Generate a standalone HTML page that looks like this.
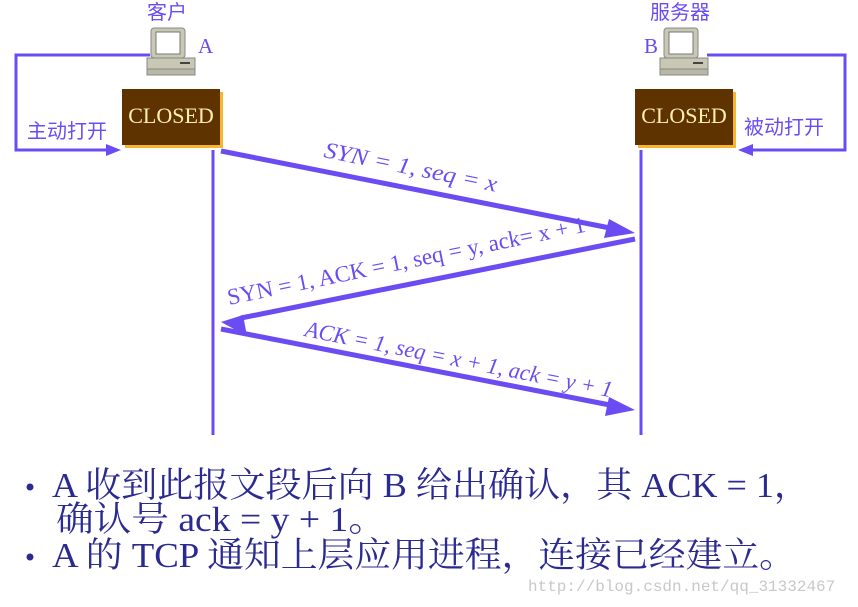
<!DOCTYPE html>
<html><head><meta charset="utf-8"><style>
html,body{margin:0;padding:0;background:#fff;width:858px;height:607px;overflow:hidden}
</style></head><body>
<svg width="858" height="607" viewBox="0 0 858 607" xmlns="http://www.w3.org/2000/svg" font-family="'Liberation Serif','Noto Serif CJK SC',serif">
<defs>
<g id="pc">
 <rect x="4" y="0" width="34" height="30" rx="3" fill="#c8c8b4" stroke="#888" stroke-width="1"/>
 <rect x="9" y="4" width="24" height="22" fill="#fff" stroke="#777" stroke-width="1"/>
 <rect x="0" y="30" width="48" height="11" fill="#c8c8b4" stroke="#888"/>
 <rect x="33" y="34" width="10" height="2" fill="#444"/>
 <rect x="0" y="41" width="48" height="6" fill="#b8b8a4" stroke="#888"/>
</g>
</defs>
<g font-family="'Liberation Sans','Noto Sans CJK SC',sans-serif" fill="#6a4cf2" font-size="20">
<text x="147" y="19">客户</text>
<text x="650" y="19">服务器</text>
<text x="27" y="138">主动打开</text>
<text x="744" y="134">被动打开</text>
</g>
<text x="198" y="53" font-size="21" fill="#6a4cf2">A</text>
<text x="644" y="53" font-size="21" fill="#6a4cf2">B</text>
<use href="#pc" x="147" y="28"/>
<use href="#pc" x="660" y="28"/>
<g stroke="#6a4cf2" stroke-width="3" fill="none">
<polyline points="150,55 16,55 16,150 108,150"/>
<polyline points="707,55 845,55 845,150 752,150"/>
</g>
<polygon points="121,150 106,144 106,156" fill="#6a4cf2"/>
<polygon points="738,150 753,144 753,156" fill="#6a4cf2"/>
<rect x="125" y="92" width="98" height="56" fill="#f5b731"/>
<rect x="122" y="89" width="98" height="56" fill="#5e3300"/>
<rect x="638" y="92" width="98" height="56" fill="#f5b731"/>
<rect x="635" y="89" width="98" height="56" fill="#5e3300"/>
<text x="171" y="123" text-anchor="middle" font-size="22" fill="#fff0b0">CLOSED</text>
<text x="684" y="123" text-anchor="middle" font-size="22" fill="#fff0b0">CLOSED</text>
<g stroke="#6a4cf2" stroke-width="3">
<line x1="213" y1="150" x2="213" y2="435"/>
<line x1="641" y1="150" x2="641" y2="435"/>
</g>
<g stroke="#6a4cf2" stroke-width="5">
<line x1="221" y1="151" x2="615" y2="229"/>
<line x1="635" y1="239" x2="241" y2="318"/>
<line x1="221" y1="329" x2="615" y2="406"/>
</g>
<g fill="#6a4cf2">
<polygon points="635,233 609,219 604,238"/>
<polygon points="221,322 247,336 243,315"/>
<polygon points="635,410 609,397 605,416"/>
</g>
<g fill="#6a4cf2" font-size="23">
<text transform="translate(323,157) rotate(11.4)" font-style="italic" textLength="176" lengthAdjust="spacingAndGlyphs">SYN = 1, seq = x</text>
<text transform="translate(229,305) rotate(-11.6)" textLength="365" lengthAdjust="spacingAndGlyphs">SYN = 1, ACK = 1, seq = y, ack= x + 1</text>
<text transform="translate(304,336) rotate(11.3)" font-style="italic" textLength="313" lengthAdjust="spacingAndGlyphs">ACK = 1, seq = x + 1, ack = y + 1</text>
</g>
<g fill="#2a2a90" font-size="35">
<circle cx="30" cy="487" r="3.5"/>
<circle cx="30" cy="557" r="3.5"/>
<text x="52" y="497" textLength="758" lengthAdjust="spacingAndGlyphs">A 收到此报文段后向 B 给出确认，其 ACK = 1，</text>
<text x="56" y="531" textLength="330" lengthAdjust="spacingAndGlyphs">确认号 ack = y + 1。</text>
<text x="52" y="567" textLength="744" lengthAdjust="spacingAndGlyphs">A 的 TCP 通知上层应用进程，连接已经建立。</text>
</g>
<text x="528" y="591" font-size="16" fill="#c8c8c8" font-family="'Liberation Mono',monospace">http://blog.csdn.net/qq_31332467</text>
</svg>
</body></html>
